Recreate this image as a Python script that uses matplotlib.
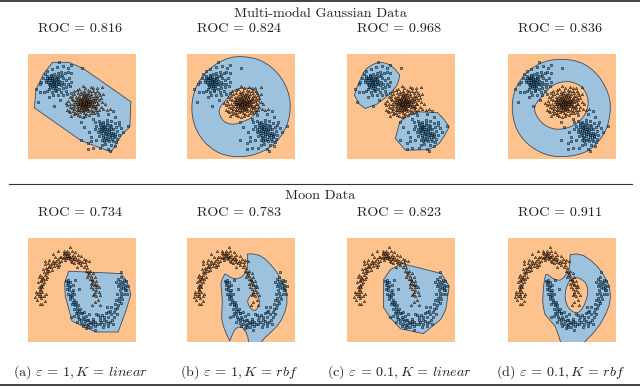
import numpy as np
import matplotlib
matplotlib.use('Agg')
import matplotlib.pyplot as plt
from matplotlib.lines import Line2D

plt.rcParams['font.family'] = ['cmr10', 'DejaVu Serif']
plt.rcParams['mathtext.fontset'] = 'cm'
plt.rcParams['axes.formatter.use_mathtext'] = True

W, H = 640, 386
ORANGE = '#fec28e'
BLUE = '#9cc2de'
EDGE = '#3c4c5a'

# points (panel units, y down)
gauss_a = [(163,43),(95,25),(130,33),(122,42),(107,38),(88,40),(72,45),(60,52),(52,60),(47,72),(42,85),(37,92),(25,105),(33,145),(78,158),(66,130),
           (80,60),(90,58),(100,55),(112,58),(120,55),(131,58),(70,65),(78,70),(88,72),(98,68),(106,72),(60,72),(66,78),(76,82),(85,84),(95,82),(104,84),(115,78),(125,72),
           (56,85),(64,90),(72,92),(82,94),(92,92),(100,95),(110,92),(120,90),(130,85),(68,100),(76,104),(85,102),(94,106),(105,104),(116,100),(128,96),(60,112),(72,114),(84,112),(100,114),(114,112),
           (38,114),(50,115),(75,125),(90,125),(105,124),(118,122),(130,118),(98,138),(65,72),(74,76),(82,78),(70,86),(80,88),(74,98),
           (68,74),(72,80),(78,86),(84,76),(90,86),(62,84),(68,94),(76,90),(86,98),(92,76),(60,66),(72,72),(80,96),(66,106),(70,68),(94,90),(56,78),(88,66),(82,108),(104,64)]
gauss_b = [(247,292),(300,217),(285,235),(160,205),(160,258),(190,262),(183,235),(222,272),(255,172),(180,285),(170,218),(195,196),(210,184),(240,180),(262,190),(274,205),(280,222),
           (200,205),(212,200),(224,204),(236,198),(248,202),(260,206),(272,212),(205,215),(216,212),(228,216),(238,212),(250,215),(264,218),(200,226),(212,224),(222,228),(232,225),(244,228),(256,226),(268,230),
           (210,235),(220,238),(230,236),(240,240),(250,236),(262,240),(272,244),(214,246),(226,248),(236,246),(246,250),(258,250),(268,254),(222,258),(234,258),(244,262),(256,260),(264,264),(232,270),(250,272),(262,276),(190,250),(205,258),(180,266),(196,282),(215,282),(240,284),(226,222),(234,232),(242,222),(218,230),(248,244),
           (226,210),(232,218),(222,220),(238,226),(228,230),(234,240),(242,234),(250,224),(256,236),(224,242),(230,252),(240,254),(252,244),(218,218),(246,212),(236,206),(216,206),(260,246),(228,262),(252,256)]
gauss_c = [(222,100),(125,172),(130,187),(150,185),(215,125),(230,150),(245,165),(165,98),(155,105),(182,108),(195,112),(140,120),(132,135),(118,155),(122,142),(135,150),(140,165),(150,170),(165,190),(175,180),(190,178),(205,170),(218,160),(212,140),
           (150,118),(160,115),(170,112),(180,118),(190,122),(200,128),(208,132),(145,130),(155,128),(165,126),(175,128),(185,130),(195,134),(205,142),(150,140),(158,136),(166,138),(174,136),(182,140),(190,142),(198,146),(207,150),
           (145,150),(155,148),(163,146),(170,148),(178,146),(186,150),(194,152),(202,156),(152,158),(160,155),(168,156),(176,154),(184,158),(192,160),(200,164),(158,164),(166,162),(174,162),(182,166),(190,168),(165,172),(172,170),(180,172),(158,176),(170,178),(148,160),(162,150),(172,142),(178,152),(168,132),(160,144),(176,160),(184,146),(154,144),(186,136),(164,158),(172,154),(156,152),(168,150),(180,156),(174,150),(166,142),(176,142),(160,160),
           (146,138),(152,134),(162,132),(170,124),(178,134),(188,126),(194,140),(200,136),(142,144),(148,146),(156,140),(164,136),(172,130),(182,124),(168,146),(174,146),(180,142),(186,142),(192,146),(196,156),(162,154),(170,160),(178,166),(184,152),(150,152),(158,148),(166,152),(176,148),(182,150),(190,154),(156,168),(164,168),(172,166),(148,168),(206,126),(210,150),(136,138),(128,160),(142,178),(196,172),
           (160,122),(176,120),(186,112),(168,118),(212,118),(208,112),(200,118),(196,102),(204,160),(214,170),
           (126,150),(134,128),(128,176),(118,168),(138,182),(148,178),(136,172),(156,186),(172,186),(184,184),(198,178),(208,176),(226,166),(222,146),(218,134),(224,122),(148,108),(172,102),(188,100),(206,104),(138,112),(126,130),(114,148),(236,170),(140,156),(134,162)]

moon_up = [(28,172),(24,180),(30,190),(38,200),(45,200),(52,192),(34,178),(42,182),(50,176),(55,170),(26,165),(36,165),(45,165),(38,155),(44,150),(40,142),(32,135),(42,130),(50,135),(35,120),(45,118),(55,125),(60,118),(38,112),(50,105),(58,108),(65,100),(48,95),(56,92),(66,90),(72,98),(52,80),(62,78),(70,80),(80,85),(90,90),(52,70),(65,68),(75,70),(85,72),(95,75),
           (75,50),(82,60),(92,65),(100,60),(92,42),(108,48),(115,55),(122,62),(130,70),(140,78),(108,40),(118,42),(128,30),(125,48),(135,52),(142,58),(150,64),(158,70),(132,42),(142,44),(150,52),(160,56),(168,65),(172,75),(148,90),(160,82),(170,88),(178,92),(186,100),
           (175,68),(185,72),(180,105),(188,115),(195,108),(178,120),(192,128),(200,120),(205,130),(188,140),(198,145),(208,142),(212,150),(195,155),(205,160),(212,165),(216,175),(205,178),(195,175),(190,150),(200,195),(193,205),(210,190),(215,205),(120,55),(128,58),(110,58),(112,68),(100,72),
           (40,158),(42,148),(36,150),(46,140),(40,128),(46,126),(38,170),(40,176),(48,122),(52,112),(58,100),(60,95),(64,86),(70,88),(76,78),(82,78),(88,82),(94,82),(110,50),(114,62),(118,50),(124,56),(126,66),(132,60),(136,64),(140,66),(146,68),(150,74),(154,78),(164,74),(174,84),(176,100),(184,108),(186,124),(192,136),(196,132),(200,140),(204,150),(200,165),(198,170),(192,124),(182,112),(106,62),(96,58),(116,46),(134,74)]
moon_low = [(115,130),(122,128),(128,135),(142,128),(118,142),(128,148),(135,145),(155,155),(118,155),(125,160),(135,158),(122,170),(130,175),(140,172),(128,185),(138,188),(132,200),(145,195),(150,205),(140,215),(148,222),(158,215),(130,240),(140,238),(150,232),(162,228),(170,225),(155,245),(165,240),(175,238),(185,230),(148,255),(160,258),(172,252),(182,248),(195,245),(205,230),
            (165,268),(178,265),(190,258),(202,255),(215,250),(228,248),(240,240),(175,272),(190,270),(202,268),(215,262),(228,260),(240,258),(252,250),(200,280),(225,270),(240,268),(255,262),(210,235),(222,235),(235,228),(245,222),(238,210),(250,210),(258,225),(266,232),(262,200),(270,205),(278,198),(265,190),(272,182),(282,185),(268,172),(278,168),(288,170),(298,172),(275,158),(285,152),(295,158),(270,148),(282,140),(292,142),(300,148),(276,130),(288,128),(278,118),(270,125),(280,105),(293,130),(265,135),(160,228),(182,260),(216,240),(142,205),(120,135),
            (125,150),(122,138),(132,165),(127,178),(134,180),(136,195),(142,200),(148,212),(155,222),(144,228),(152,240),(160,248),(168,246),(178,248),(186,256),(196,252),(170,262),(182,270),(196,262),(208,262),(220,256),(234,252),(246,256),(258,240),(250,232),(262,215),(268,212),(274,192),(280,178),(290,160),(280,150),(274,140),(286,134),(292,150),(240,225),(228,240)]

# decision regions
p1 = [(75,26),(123,26),(166,44),(308,144),(305,219),(280,244),(250,294),(188,271),(158,259),(21,162),(26,107),(48,61)]
p2_out = [(163,9),(220,20),(268,54),(300,105),(310,160),(298,218),(262,270),(208,300),(150,308),(95,295),(50,258),(24,208),(18,150),(34,92),(72,45),(118,17)]
p2_in = [(167,104),(197,107),(217,129),(215,159),(197,189),(167,204),(137,211),(112,201),(99,177),(104,157),(122,136),(142,111)]
p3_a = [(96,26),(115,28),(131,34),(146,48),(159,64),(156,80),(150,96),(126,124),(91,151),(56,164),(39,151),(24,124),(34,95),(41,79),(50,58),(61,44),(80,32)]
p3_b = [(216,174),(271,176),(290,196),(306,219),(292,245),(276,269),(246,287),(176,289),(146,254),(159,204),(186,184)]
p4_out = [(161,17),(222,28),(270,65),(300,118),(307,170),(292,232),(250,284),(195,305),(130,305),(72,278),(32,232),(16,170),(24,110),(56,60),(105,27)]
p4_in = [(183,84),(223,101),(241,139),(233,179),(203,211),(158,226),(118,217),(90,189),(83,159),(103,129),(138,94)]
b1 = [(123,102),(278,109),(296,132),(308,172),(293,222),(270,285),(203,285),(133,252),(113,177),(111,137)]
b2_out = [(183,50),(200,50),(218,54),(235,65),(252,82),(268,102),(282,125),(294,150),(300,175),(300,200),(294,225),(283,250),(268,270),(250,288),(232,305),(222,318),(186,318),(184,300),(178,285),(168,272),(155,270),(145,278),(137,295),(130,312),(122,295),(112,270),(106,245),(107,215),(108,190),(106,165),(104,140),(108,125),(116,110),(124,115),(135,122),(150,125),(165,120),(176,108),(182,92),(183,70)]
b2_in = [(198,170),(213,175),(218,200),(205,220),(190,210),(184,190)]
b3 = [(166,79),(283,109),(306,147),(296,217),(281,247),(229,290),(161,275),(131,242),(111,212),(111,127),(131,97)]
b4_out = [(188,52),(208,50),(228,55),(250,70),(268,87),(284,108),(298,132),(305,155),(308,177),(304,205),(293,232),(278,260),(258,287),(240,305),(228,318),(160,318),(155,300),(143,267),(128,250),(113,232),(108,210),(106,187),(108,160),(110,137),(115,112),(122,112),(133,122),(145,128),(158,129),(170,120),(178,107),(186,92)]
b4_in = [(208,122),(233,137),(240,167),(228,207),(208,227),(183,212),(173,177),(183,137)]

top_roc = ['ROC = 0.816', 'ROC = 0.824', 'ROC = 0.968', 'ROC = 0.836']
bot_roc = ['ROC = 0.734', 'ROC = 0.783', 'ROC = 0.823', 'ROC = 0.911']
captions = [r'(a) $\varepsilon\,=\,1,K\,=\,linear$', r'(b) $\varepsilon\,=\,1,K\,=\,rbf$',
            r'(c) $\varepsilon\,=\,0.1,K\,=\,linear$', r'(d) $\varepsilon\,=\,0.1,K\,=\,rbf$']


def smooth(pts, n=12):
    # closed catmull-rom through the traced vertices
    p = np.array(pts, dtype=float)
    out = []
    for i in range(len(p)):
        p0, p1_, p2_, p3_ = p[i-1], p[i], p[(i+1) % len(p)], p[(i+2) % len(p)]
        for t in np.linspace(0, 1, n, endpoint=False):
            out.append(0.5*((2*p1_) + (p2_-p0)*t + (2*p0-5*p1_+4*p2_-p3_)*t**2 + (3*p1_-p0-3*p2_+p3_)*t**3))
    return np.array(out)


def panel(rect, blues, holes, sq, tri, curved=True):
    x0, y0, w, h = rect
    ax = fig.add_axes([x0/W, 1-(y0+h)/H, w/W, h/H])
    ax.set_xlim(3, 323)
    ax.set_ylim(316, 2)
    ax.set_xticks([])
    ax.set_yticks([])
    ax.set_facecolor(ORANGE)
    for s in ax.spines.values():
        s.set_visible(False)
    for b in blues:
        v = smooth(b) if curved else np.array(b)
        ax.fill(v[:, 0], v[:, 1], fc=BLUE, ec=EDGE, lw=0.6, zorder=1)
    for b in holes:
        v = smooth(b)
        ax.fill(v[:, 0], v[:, 1], fc=ORANGE, ec=EDGE, lw=0.6, zorder=2)
    sq = np.array(sq)
    tri = np.array(tri)
    ax.scatter(tri[:, 0], tri[:, 1], s=3, marker='^', c='#b36a2a', edgecolors='k', linewidths=0.45, alpha=0.7, zorder=3)
    ax.scatter(sq[:, 0], sq[:, 1], s=3.2, marker='s', c='#2f80b8', edgecolors='k', linewidths=0.45, alpha=0.75, zorder=4)
    return ax


fig = plt.figure(figsize=(W/100, H/100), dpi=100)

top_x = [28.3, 187, 347.3, 508]
bot_x = [28.3, 187, 347.3, 508]
gauss_sq = gauss_a + gauss_b
regions_top = [([p1], [], False), ([p2_out], [p2_in], True), ([p3_a, p3_b], [], False), ([p4_out], [p4_in], True)]
regions_bot = [([b1], [], False), ([b2_out], [b2_in], False), ([b3], [], False), ([b4_out], [b4_in], False)]

for x, r, t in zip(top_x, regions_top, top_roc):
    panel((x, 54.3, 107.6, 105), r[0], r[1], gauss_sq, gauss_c, r[2])
    fig.text((x+52)/W, 1-29/H, t, ha='center', va='center', fontsize=10.2, color='#222222')
for x, r, t, c in zip(bot_x, regions_bot, bot_roc, captions):
    panel((x, 238, 107.6, 104.3), r[0], r[1], moon_low, moon_up, r[2])
    fig.text((x+52)/W, 1-213/H, t, ha='center', va='center', fontsize=10.2, color='#222222')
    fig.text((x+52.5)/W, 1-372/H, c, ha='center', va='center', fontsize=10.2, color='#222222')

fig.text(320/W, 1-13.5/H, 'Multi-modal Gaussian Data', ha='center', va='center', fontsize=10.2, color='#222222')
fig.text(320/W, 1-196/H, 'Moon Data', ha='center', va='center', fontsize=10.2, color='#222222')

fig.add_artist(Line2D([0, 1], [1-0.8/H, 1-0.8/H], color='#333333', lw=1.3))
fig.add_artist(Line2D([9/W, 632/W], [1-184/H, 1-184/H], color='#333333', lw=0.8))
fig.add_artist(Line2D([0, 1], [1-384.5/H, 1-384.5/H], color='#333333', lw=1.3))

fig.savefig('out.png', dpi=100)
